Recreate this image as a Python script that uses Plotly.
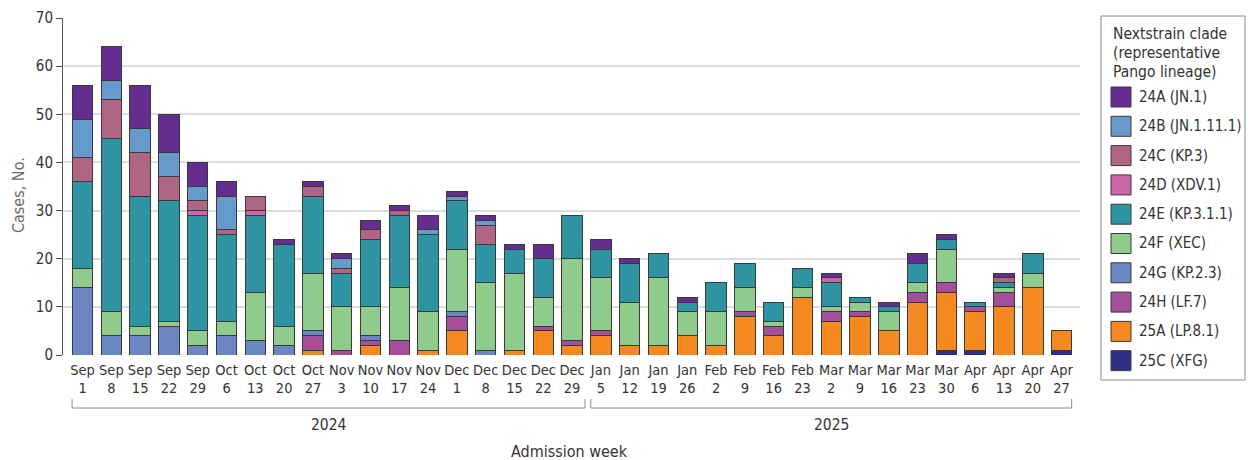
import plotly.graph_objects as go

# Admission weeks (Sep 1 2024 - Apr 27 2025)
week_labels = [
    "Sep<br>1", "Sep<br>8", "Sep<br>15", "Sep<br>22", "Sep<br>29",
    "Oct<br>6", "Oct<br>13", "Oct<br>20", "Oct<br>27",
    "Nov<br>3", "Nov<br>10", "Nov<br>17", "Nov<br>24",
    "Dec<br>1", "Dec<br>8", "Dec<br>15", "Dec<br>22", "Dec<br>29",
    "Jan<br>5", "Jan<br>12", "Jan<br>19", "Jan<br>26",
    "Feb<br>2", "Feb<br>9", "Feb<br>16", "Feb<br>23",
    "Mar<br>2", "Mar<br>9", "Mar<br>16", "Mar<br>23", "Mar<br>30",
    "Apr<br>6", "Apr<br>13", "Apr<br>20", "Apr<br>27",
]
year_labels = ["2024", "2025"]

# Weekly case counts per Nextstrain clade
clade_24a = [7, 7, 9, 8, 5, 3, 0, 1, 1, 1, 2, 1, 3, 1, 1, 1, 3, 0, 2, 1, 0, 1, 0, 0, 0, 0, 1, 0, 1, 2, 1, 0, 1, 0, 0]
clade_24b = [8, 4, 5, 5, 3, 7, 0, 0, 0, 2, 0, 0, 1, 1, 1, 0, 0, 0, 0, 0, 0, 0, 0, 0, 0, 0, 0, 0, 0, 0, 0, 0, 0, 0, 0]
clade_24c = [5, 8, 9, 5, 2, 1, 3, 0, 2, 1, 2, 1, 0, 0, 4, 0, 0, 0, 0, 0, 0, 0, 0, 0, 0, 0, 0, 0, 0, 0, 0, 0, 1, 0, 0]
clade_24d = [0, 0, 0, 0, 1, 0, 1, 0, 0, 0, 0, 0, 0, 0, 0, 0, 0, 0, 0, 0, 0, 0, 0, 0, 0, 0, 1, 0, 0, 0, 0, 0, 0, 0, 0]
clade_24e = [18, 36, 27, 25, 24, 18, 16, 17, 16, 7, 14, 15, 16, 10, 8, 5, 8, 9, 6, 8, 5, 2, 6, 5, 4, 4, 5, 1, 1, 4, 2, 1, 1, 4, 0]
clade_24f = [4, 5, 2, 1, 3, 3, 10, 4, 12, 9, 6, 11, 8, 13, 14, 16, 6, 17, 11, 9, 14, 5, 7, 5, 1, 2, 1, 2, 4, 2, 7, 0, 1, 3, 0]
clade_24g = [14, 4, 4, 6, 2, 4, 3, 2, 1, 0, 1, 0, 0, 1, 1, 0, 0, 0, 0, 0, 0, 0, 0, 0, 0, 0, 0, 0, 0, 0, 0, 0, 0, 0, 0]
clade_24h = [0, 0, 0, 0, 0, 0, 0, 0, 3, 1, 1, 3, 0, 3, 0, 0, 1, 1, 1, 0, 0, 0, 0, 1, 2, 0, 2, 1, 0, 2, 2, 1, 3, 0, 0]
clade_25a = [0, 0, 0, 0, 0, 0, 0, 0, 1, 0, 2, 0, 1, 5, 0, 1, 5, 2, 4, 2, 2, 4, 2, 8, 4, 12, 7, 8, 5, 11, 12, 8, 10, 14, 4]
clade_25c = [0, 0, 0, 0, 0, 0, 0, 0, 0, 0, 0, 0, 0, 0, 0, 0, 0, 0, 0, 0, 0, 0, 0, 0, 0, 0, 0, 0, 0, 0, 1, 1, 0, 0, 1]

# Legend order (top to bottom)
clade_names = [
    "24A (JN.1)", "24B (JN.1.11.1)", "24C (KP.3)", "24D (XDV.1)", "24E (KP.3.1.1)",
    "24F (XEC)", "24G (KP.2.3)", "24H (LF.7)", "25A (LP.8.1)", "25C (XFG)",
]
clade_values = [
    clade_24a, clade_24b, clade_24c, clade_24d, clade_24e,
    clade_24f, clade_24g, clade_24h, clade_25a, clade_25c,
]
clade_colors = [
    "#662D91", "#6699CC", "#B06585", "#CC66AA", "#2E94A2",
    "#8FCB8B", "#6B87C3", "#A54E9B", "#F3891F", "#2B3085",
]

FONT = "Liberation Sans Narrow, DejaVu Sans Condensed, Roboto, sans-serif"
TEXT = "#333333"

# Plot area geometry (pixels) used for placing annotations and the legend panel
W, H = 1252, 460
L, R, T, B = 63, 172, 18, 105
PW, PH = W - L - R, H - T - B


def px(x):
    return (x - L) / PW


def py(y):
    return (H - B - y) / PH


x_idx = list(range(len(week_labels)))

fig = go.Figure()

# Stack from the bottom: 25C first, 24A on top
for name, vals, col in reversed(list(zip(clade_names, clade_values, clade_colors))):
    fig.add_trace(go.Bar(
        x=x_idx,
        y=[v if v else None for v in vals],
        name=name,
        marker=dict(color=col, line=dict(color="#3a3a3a", width=1)),
        width=0.71,
        showlegend=False,
    ))

fig.update_layout(
    width=W, height=H,
    margin=dict(l=L, r=R, t=T, b=B, autoexpand=False),
    barmode="stack",
    plot_bgcolor="white",
    paper_bgcolor="white",
    font=dict(family=FONT, size=14, color=TEXT),
    xaxis=dict(
        range=[-0.68, 34.64],
        tickmode="array",
        tickvals=x_idx,
        ticktext=week_labels,
        showgrid=False,
        showline=False,
        ticks="",
        ticklabelstandoff=4,
        tickfont=dict(size=14.5, color=TEXT),
        zeroline=False,
    ),
    yaxis=dict(
        range=[0, 70],
        dtick=10,
        showgrid=True,
        gridcolor="#dcdcdc",
        gridwidth=2,
        showline=True,
        linecolor="#555555",
        linewidth=1,
        ticks="outside",
        ticklen=6,
        tickcolor="#555555",
        tickfont=dict(size=15, color=TEXT),
        zeroline=False,
    ),
)

shapes = []
annotations = []

# Year brackets beneath the week labels
bracket_spans = [(-0.365, 17.45), (17.65, 34.35)]
y_line, y_tip = py(408), py(399)
for (x0, x1), year in zip(bracket_spans, year_labels):
    line = dict(color="#8a8a8a", width=1)
    shapes.append(dict(type="line", xref="x", yref="paper", x0=x0, x1=x1, y0=y_line, y1=y_line, line=line))
    shapes.append(dict(type="line", xref="x", yref="paper", x0=x0, x1=x0, y0=y_line, y1=y_tip, line=line))
    shapes.append(dict(type="line", xref="x", yref="paper", x0=x1, x1=x1, y0=y_line, y1=y_tip, line=line))
    annotations.append(dict(
        text=year, xref="x", yref="paper", x=(x0 + x1) / 2, y=py(425),
        showarrow=False, xanchor="center", yanchor="middle",
        font=dict(size=15.5, color=TEXT),
    ))

annotations.append(dict(
    text="Admission week", xref="paper", yref="paper", x=px(569), y=py(451),
    showarrow=False, xanchor="center", yanchor="middle",
    font=dict(size=16, color=TEXT),
))
annotations.append(dict(
    text="Cases, No.", xref="paper", yref="paper", x=px(18), y=py(195),
    showarrow=False, xanchor="center", yanchor="middle", textangle=-90,
    font=dict(size=16, color="#6b6b6b"),
))

# Legend panel
shapes.append(dict(
    type="rect", xref="paper", yref="paper",
    x0=px(1101), x1=px(1245), y0=py(16), y1=py(380),
    line=dict(color="#8a8a8a", width=1), fillcolor="white",
))
for i, line_text in enumerate(["Nextstrain clade", "(representative", "Pango lineage)"]):
    annotations.append(dict(
        text=line_text, xref="paper", yref="paper", x=px(1111), y=py(34 + 19 * i),
        showarrow=False, xanchor="left", yanchor="middle",
        font=dict(size=15.5, color=TEXT),
    ))
for i, (name, col) in enumerate(zip(clade_names, clade_colors)):
    yc = 97 + 29.3 * i
    shapes.append(dict(
        type="rect", xref="paper", yref="paper",
        x0=px(1111), x1=px(1131), y0=py(yc - 10), y1=py(yc + 10),
        line=dict(color="#3a3a3a", width=1), fillcolor=col,
    ))
    annotations.append(dict(
        text=name, xref="paper", yref="paper", x=px(1137), y=py(yc),
        showarrow=False, xanchor="left", yanchor="middle",
        font=dict(size=15, color=TEXT),
    ))

fig.update_layout(shapes=shapes, annotations=annotations)

fig.write_html("out.html")
